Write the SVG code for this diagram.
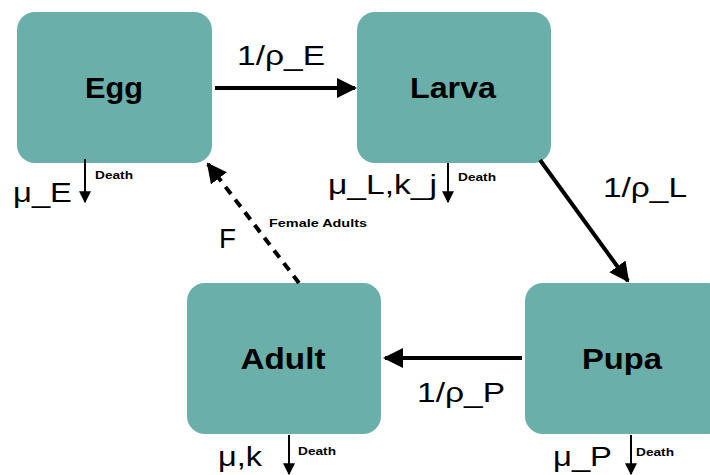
<svg xmlns="http://www.w3.org/2000/svg" width="710" height="475" viewBox="0 0 710 475">
<style>
.box{fill:#6aafa9;}
.name{font-family:"Liberation Sans",Arial,sans-serif;font-weight:bold;font-size:29px;fill:#000;text-anchor:middle;}
.lbl{font-family:"Liberation Sans",Arial,sans-serif;font-size:28px;fill:#000;}
.small{font-family:"Liberation Sans",Arial,sans-serif;font-weight:bold;font-size:11px;fill:#000;}
.edge{stroke:#000;stroke-width:4;fill:none;}
.thin{stroke:#000;stroke-width:2;fill:none;}
</style>
<defs>
<marker id="ah" viewBox="0 0 10 10" refX="9" refY="5" markerWidth="5" markerHeight="5" orient="auto" markerUnits="strokeWidth">
<path d="M0,0 L10,5 L0,10 z" fill="#000"/>
</marker>
<marker id="ahs" viewBox="0 0 10 10" refX="9" refY="5" markerWidth="6" markerHeight="6" orient="auto" markerUnits="strokeWidth">
<path d="M0,0 L10,5 L0,10 z" fill="#000"/>
</marker>
</defs>
<g id="egg"><rect class="box" x="17" y="12" width="195" height="151" rx="18"/><text class="name" x="114" y="98" textLength="58" lengthAdjust="spacingAndGlyphs">Egg</text></g>
<g id="larva"><rect class="box" x="357" y="12" width="194" height="151" rx="18"/><text class="name" x="453" y="98" textLength="86" lengthAdjust="spacingAndGlyphs">Larva</text></g>
<g id="adult"><rect class="box" x="187" y="283" width="194" height="151" rx="18"/><text class="name" x="283" y="369" textLength="85" lengthAdjust="spacingAndGlyphs">Adult</text></g>
<g id="pupa"><rect class="box" x="525" y="283" width="200" height="151" rx="18"/><text class="name" x="622" y="369" textLength="80" lengthAdjust="spacingAndGlyphs">Pupa</text></g>
<g id="connectors">
<line class="edge" x1="215" y1="88" x2="355" y2="88" marker-end="url(#ah)"/>
<line class="edge" x1="540" y1="160" x2="628" y2="281" marker-end="url(#ah)"/>
<line class="edge" x1="522" y1="358" x2="385" y2="358" marker-end="url(#ah)"/>
<line class="edge" x1="299" y1="283" x2="208" y2="164" stroke-dasharray="9,7" marker-end="url(#ah)"/>
<line class="thin" x1="85" y1="159" x2="85" y2="202" marker-end="url(#ahs)"/>
<line class="thin" x1="448" y1="163" x2="448" y2="202" marker-end="url(#ahs)"/>
<line class="thin" x1="289" y1="435" x2="289" y2="474" marker-end="url(#ahs)"/>
<line class="thin" x1="631" y1="435" x2="631" y2="474" marker-end="url(#ahs)"/>
</g>
<g id="labels">
<text class="lbl" x="237" y="65" textLength="88" lengthAdjust="spacingAndGlyphs">1/ρ_E</text>
<text class="lbl" x="603" y="197" textLength="84" lengthAdjust="spacingAndGlyphs">1/ρ_L</text>
<text class="lbl" x="417" y="402" textLength="88" lengthAdjust="spacingAndGlyphs">1/ρ_P</text>
<text class="lbl" x="219" y="248" textLength="17" lengthAdjust="spacingAndGlyphs">F</text>
<text class="small" x="269" y="227" font-size="12" textLength="98" lengthAdjust="spacingAndGlyphs">Female Adults</text>
<text class="lbl" x="13" y="202" textLength="59" lengthAdjust="spacingAndGlyphs">μ_E</text>
<text class="small" x="95" y="179" textLength="38" lengthAdjust="spacingAndGlyphs">Death</text>
<text class="lbl" x="328" y="194" textLength="109" lengthAdjust="spacingAndGlyphs">μ_L,k_j</text>
<text class="small" x="458" y="181" textLength="38" lengthAdjust="spacingAndGlyphs">Death</text>
<text class="lbl" x="218" y="466" textLength="44" lengthAdjust="spacingAndGlyphs">μ,k</text>
<text class="small" x="298" y="455" textLength="38" lengthAdjust="spacingAndGlyphs">Death</text>
<text class="lbl" x="553" y="466" textLength="59" lengthAdjust="spacingAndGlyphs">μ_P</text>
<text class="small" x="636" y="456" textLength="38" lengthAdjust="spacingAndGlyphs">Death</text>
</g>
</svg>
